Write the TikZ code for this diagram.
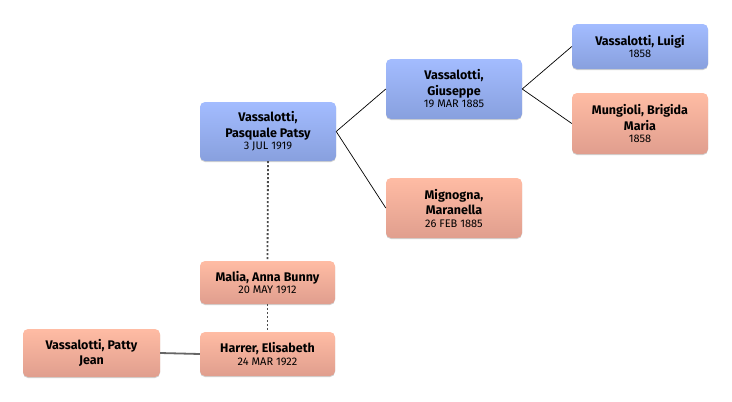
\documentclass[tikz,border=0pt]{standalone}
\usepackage{fontspec}
\setmainfont{Fira Sans}
\usetikzlibrary{shapes}
\usetikzlibrary{shadows}
\definecolor{male_top}{RGB}{163,188,255}
\definecolor{male_bottom}{RGB}{136,160,222}
\definecolor{female_top}{RGB}{255,188,164}
\definecolor{female_bottom}{RGB}{224,158,142}
\newcommand{\pdate}[1]{{\mdseries\fontsize{11}{12}\selectfont #1}}
\tikzset{
	person/.style = {
		rectangle,
		rounded corners=5pt,
		align=center,
		inner sep=0pt,
		text centered,
		font=\fontsize{12.5}{15.5}\selectfont\bfseries,
		minimum width=136pt,
		drop shadow={shadow xshift=0pt, shadow yshift=-1pt, opacity=0.3, fill=black!60}
	},
	person_m/.style = {
		person,
		top color=male_top,
		bottom color=male_bottom
	},
	person_f/.style = {
		person,
		top color=female_top,
		bottom color=female_bottom
	},
}

\begin{document}
\begin{tikzpicture}[x=1pt,y=-1pt,
	parent_link/.style={draw=black, line width=0.7pt},
	child_link/.style={draw=black!70, line width=1.8pt, dash pattern=on 2pt off 2pt},
	spouse_link/.style={draw=black!60, line width=1.8pt}]
\useasboundingbox (0,0) rectangle (732,402);
\node [person_m, minimum height=59pt] (pasquale) at (268,131.5) {Vassalotti,\\Pasquale Patsy\\[-3pt]\pdate{3 JUL 1919}};
\node [person_m, minimum height=60pt] (giuseppe) at (454,89) {Vassalotti,\\Giuseppe\\[-3pt]\pdate{19 MAR 1885}};
\node [person_f, minimum height=60pt] (mignogna) at (454,208) {Mignogna,\\Maranella\\[-3pt]\pdate{26 FEB 1885}};
\node [person_m, minimum height=45pt] (luigi) at (640,46.5) {Vassalotti, Luigi\\[-3pt]\pdate{1858}};
\node [person_f, minimum height=61pt] (mungioli) at (640,123.5) {Mungioli, Brigida\\Maria\\[-3pt]\pdate{1858}};
\node [person_f, minimum height=43pt, minimum width=135pt] (malia) at (267.5,282.5) {Malia, Anna Bunny\\[-3pt]\pdate{20 MAY 1912}};
\node [person_f, minimum height=44pt, minimum width=135pt] (harrer) at (267.5,354) {Harrer, Elisabeth\\[-3pt]\pdate{24 MAR 1922}};
\node [person_f, minimum height=48pt, minimum width=137pt] (patty) at (91.5,353) {Vassalotti, Patty\\Jean};

\draw [parent_link] (pasquale.east) -- (giuseppe.west);
\draw [parent_link] (pasquale.east) -- (mignogna.west);
\draw [parent_link] (giuseppe.east) -- (luigi.west);
\draw [parent_link] (giuseppe.east) -- (mungioli.west);
\draw [child_link] (pasquale.south) -- (malia.north);
\draw [child_link] (malia.south) -- (harrer.north);
\draw [spouse_link] (patty.east) -- (harrer.west);
\end{tikzpicture}
\end{document}
